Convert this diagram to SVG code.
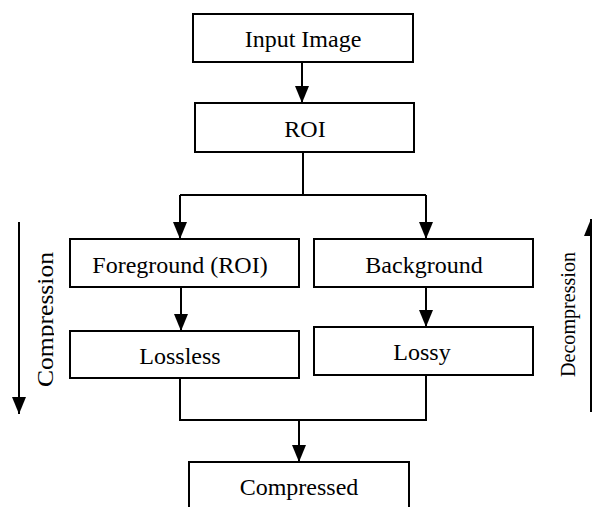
<svg xmlns="http://www.w3.org/2000/svg" width="592" height="507" viewBox="0 0 592 507">
<defs>
<style>
.box{fill:#fff;stroke:#000;stroke-width:2}
.lbl{font-family:"Liberation Serif","Times New Roman",serif;font-size:24px;fill:#000;text-anchor:middle}
.side{font-family:"Liberation Serif","Times New Roman",serif;fill:#000;text-anchor:middle}
.ln{fill:none;stroke:#000;stroke-width:2}
</style>
<marker id="ah" markerUnits="userSpaceOnUse" markerWidth="17" markerHeight="14" refX="17" refY="7" orient="auto" viewBox="0 0 17 14">
<path d="M0,0 L17,7 L0,14 z" fill="#000"/>
</marker>
<clipPath id="clipC"><rect x="0" y="200" width="54" height="220"/></clipPath>
</defs>
<rect width="592" height="507" fill="#fff"/>
<g id="connectors">
<line class="ln" x1="302" y1="62" x2="302" y2="103" marker-end="url(#ah)"/>
<polyline class="ln" points="303,152 303,195"/>
<polyline class="ln" points="180,195 426,195"/>
<line class="ln" x1="180" y1="195" x2="180" y2="239" marker-end="url(#ah)"/>
<line class="ln" x1="426" y1="195" x2="426" y2="239" marker-end="url(#ah)"/>
<line class="ln" x1="181" y1="287" x2="181" y2="331" marker-end="url(#ah)"/>
<line class="ln" x1="426" y1="287" x2="426" y2="327" marker-end="url(#ah)"/>
<polyline class="ln" points="180,378 180,420 426,420 426,375"/>
<line class="ln" x1="299" y1="420" x2="299" y2="462" marker-end="url(#ah)"/>
<line class="ln" x1="19" y1="222" x2="19" y2="414" marker-end="url(#ah)"/>
<line class="ln" x1="591" y1="412" x2="591" y2="219" marker-end="url(#ah)"/>
</g>
<g id="input"><rect class="box" x="193" y="14" width="220" height="48"/><text class="lbl" x="303" y="47">Input Image</text></g>
<g id="roi"><rect class="box" x="195" y="103" width="219" height="49"/><text class="lbl" x="305" y="137">ROI</text></g>
<g id="foreground"><rect class="box" x="70" y="239" width="229" height="48"/><text class="lbl" x="180" y="273">Foreground (ROI)</text></g>
<g id="background"><rect class="box" x="314" y="239" width="219" height="48"/><text class="lbl" x="424" y="273">Background</text></g>
<g id="lossless"><rect class="box" x="70" y="331" width="229" height="47"/><text class="lbl" x="180" y="364">Lossless</text></g>
<g id="lossy"><rect class="box" x="314" y="327" width="219" height="48"/><text class="lbl" x="422" y="360">Lossy</text></g>
<g id="compressed"><rect class="box" x="189" y="462" width="220" height="60"/><text class="lbl" x="299" y="495">Compressed</text></g>
<g id="compression-label" clip-path="url(#clipC)"><text class="side" font-size="23" transform="translate(53,319.5) rotate(-90)" textLength="135" lengthAdjust="spacingAndGlyphs">Compression</text></g>
<g id="decompression-label"><text class="side" font-size="20" transform="translate(575,314.5) rotate(-90)" textLength="125" lengthAdjust="spacingAndGlyphs">Decompression</text></g>
</svg>
